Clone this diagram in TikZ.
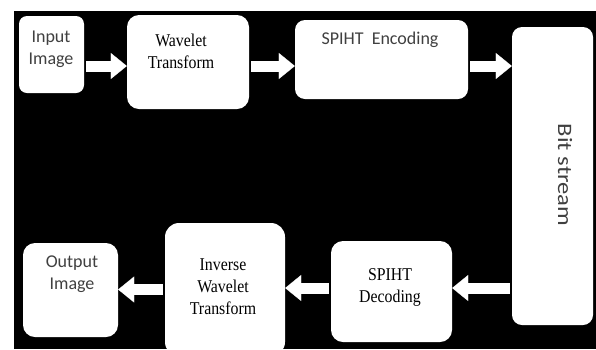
\documentclass[tikz,border=0pt]{standalone}
\usepackage{fontspec}
\setmainfont{Liberation Serif}
\newfontfamily\boxsans{Carlito}
\newfontfamily\boxserif[FakeStretch=0.88]{Liberation Serif}
\newfontfamily\streamsans[FakeStretch=1.2]{Carlito}
\usetikzlibrary{arrows.meta}
\definecolor{labelgray}{RGB}{64,64,64}

\begin{document}
\begin{tikzpicture}[x=1pt, y=-1pt,
        box/.style={fill=white, rounded corners=#1, inner sep=0pt},
        box/.default=10pt,
        sanstxt/.style={font=\boxsans\fontsize{18}{22}\selectfont, text=labelgray, align=center, inner sep=0pt},
        seriftxt/.style={font=\boxserif\fontsize{18}{22}\selectfont, text=black, align=center, inner sep=0pt},
        blk/.style={draw=white, line width=11pt, shorten <=2pt,
            -{Triangle[length=16pt, width=26pt, line width=0.1pt]}}]
        \useasboundingbox (0,0) rectangle (596,349);
        \clip (0,0) rectangle (596,349);
        \fill[white] (0,0) rectangle (596,349);
        \fill[black] (14,11) rectangle (596,349);

        % coding side
        \node[box=8pt, minimum width=65pt, minimum height=77pt] (inBox) at (51.5,54.5) {};
        \node[box=12pt, minimum width=122pt, minimum height=94pt] (wvBox) at (188,62) {};
        \node[box=10pt, minimum width=173pt, minimum height=79pt] (encBox) at (381.5,59.5) {};
        \node[box=10pt, minimum width=81pt, minimum height=298pt] (bitBox) at (552.5,176) {};

        % decoding side
        \node[box=12pt, minimum width=121pt, minimum height=101pt] (decBox) at (391.5,291.5) {};
        \node[box=14pt, minimum width=120pt, minimum height=133pt] (invBox) at (225,289.5) {};
        \node[box=12pt, minimum width=95pt, minimum height=94pt] (outBox) at (70.5,290) {};

        \node[sanstxt] (inTxt) at (51,49) {Input\\Image};
        \node[seriftxt] (wvTxt) at (181,51) {Wavelet\\Transform};
        \node[sanstxt] (encTxt) at (380,40) {SPIHT\ \ Encoding};
        \node[font=\streamsans\fontsize{20.5}{24}\selectfont, text=labelgray, rotate=-90, inner sep=0pt] (bitTxt) at (565,175) {Bit stream};
        \node[seriftxt] (decTxt) at (390,287) {SPIHT\\Decoding};
        \node[seriftxt] (invTxt) at (223,287) {Inverse\\Wavelet\\Transform};
        \node[sanstxt] (outTxt) at (72,274.5) {Output\\Image};

        \draw[blk] ([yshift=-11.5pt]inBox.east) -- ([yshift=-11.5pt]inBox.east -| wvBox.west);
        \draw[blk] ([yshift=-4pt]wvBox.east) -- ([yshift=-4pt]wvBox.east -| encBox.west);
        \draw[blk] ([yshift=-6.5pt]encBox.east) -- ([yshift=-6.5pt]encBox.east -| bitBox.west);
        \draw[blk] ([yshift=3.5pt]decBox.east -| bitBox.west) -- ([yshift=3.5pt]decBox.east);
        \draw[blk] ([yshift=3.5pt]decBox.west) -- ([yshift=3.5pt]decBox.west -| invBox.east);
        \draw[blk] (invBox.west) -- (invBox.west -| outBox.east);
    \end{tikzpicture}
\end{document}
